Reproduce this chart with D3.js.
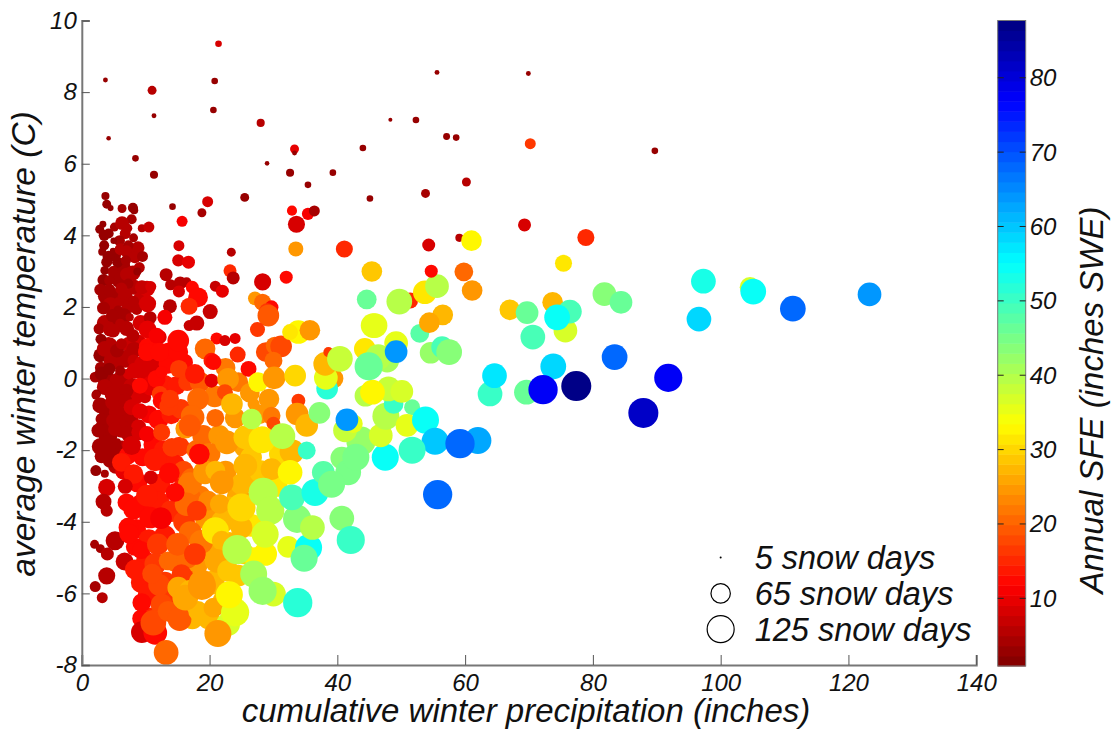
<!DOCTYPE html>
<html>
<head>
<meta charset="utf-8">
<script src="https://cdn.jsdelivr.net/npm/d3@7"></script>
<style>
  body { margin: 0; background: #fff; }
  text { font-family: "Liberation Sans", Arial, sans-serif; font-style: italic; fill: #111; }
</style>
</head>
<body>
<div id="chart"></div>
<script>
// rows are [precip inches, temp C, annual SFE, snow days]
var darkFill = [
  [4.2,4.05,3,33],[6.8,4.05,5,36],[7.8,4.45,4,33],[5.9,3.85,4,36],[7.6,3.55,5,43],[8.8,3.65,5,43],[9,3.1,5,36],[5.2,3.45,3,40],
  [4.2,3.4,3,40],[6.4,3.15,4,50],[5.2,2.95,4,46],[5.9,2.75,4,53],[8,2.95,6,50],[8.2,2.55,5,50],[3.4,2.75,3,40],[3.7,2.3,4,50],
  [5.1,2.3,4,53],[6.8,2.3,5,50],[7.4,2.05,5,53],[9.2,2.2,7,53],[4.5,2.05,5,53],[6.6,1.75,4,50],[5.6,1.55,4,60],[3.6,1.55,5,53],
  [7,1.4,5,50],[9.2,1.55,8,53],[8.9,1,8,53],[7.3,0.95,7,50],[4.2,0.9,5,63],[2.9,0.65,3,46],[4.9,0.5,5,63],[6.8,0.55,6,60],
  [8.2,0.8,6,53],[3.9,-0.05,4,60],[6.5,0,6,68],[7.9,-0.25,7,63],[5.8,-0.5,6,68],[2.9,-0.75,4,53],[8.5,-0.5,8,53],[3.9,-0.85,4,60],
  [5.8,-0.95,5,68],[7.5,-1.2,6,60],[6.2,-1.4,6,60],[4.1,-1.6,4,63],[2.9,-1.9,4,57],[6.3,-1.95,6,53],[4.9,-2,4,63],[3.5,-1.35,4,57],
  [8.9,-1.35,9,50],[5.3,-2.45,5,50],[4.4,-2.3,4,46]
];
var darkCluster = [
  [3.7,5.1,3,26],[3.9,4.87,3,29],[4.5,4.76,3,19],[6.3,4.75,4,29],[8,4.77,3,33],[8.2,4.7,3,26],
  [3.3,4.31,3,22],[2.8,4.17,3,29],[5.1,4.23,4,29],[6.3,4.34,6,46],[7.2,4.2,5,29],[9.4,4.2,5,26],[10.5,4.23,7,36],
  [3.5,4,3,36],[5,3.85,3,21],[8.1,3.93,4,29],[3.5,3.72,3,33],[3.2,3.54,3,26],[4.9,3.56,3,21],[6.1,3.61,5,40],
  [7.3,3.72,4,33],[7,3.55,5,40],[8.3,3.39,5,40],[9.5,3.41,4,36],[3.9,3.25,3,36],[5.6,3.25,3,36],[6.9,3.3,4,33],
  [3.6,3.02,3,29],[4.9,3,4,33],[7,2.91,5,43],[8.7,2.99,3,26],[4.3,2.74,4,33],[7.3,2.65,4,33],[2.9,2.48,4,40],
  [4.3,2.48,4,40],[6.2,2.51,5,40],[10.2,2.51,8,53],[9.4,2.55,7,46],[10.8,2.57,8,36],[5.7,2.13,5,33],[8.1,2.16,5,36],
  [3.4,1.97,4,43],[5.7,1.9,4,33],[8.6,1.93,6,36],[4.8,1.76,4,43],[10.7,1.7,6,43],[7.5,1.71,5,26],[2.7,1.39,4,36],
  [4.4,1.37,5,46],[6,1.53,5,33],[8,1.2,6,43],[3,1.1,3,36],[4.9,1.34,5,46],[3.6,0.83,5,53],[5.5,0.78,4,46],[6.2,0.97,6,36],
  [3,0.3,4,40],[2.1,0.04,4,36],[3.1,0.14,3,46],[4.3,0.27,3,40],[5.5,-0.06,5,50],[8.1,0.5,7,40],[7.3,0.13,8,36],
  [8.3,0.22,8,53],[6,0.22,4,33],[3.6,-0.24,5,53],[2.3,-0.43,3,29],[4.9,-0.43,5,57],[7,-0.34,5,46],[9.9,0.08,8,53],
  [9.9,-0.52,8,40],[2.2,-0.46,4,29],[4.9,-0.66,5,53],[6.8,-0.62,6,46],[3.1,-1.13,4,40],[2.6,-1.45,4,46],[4.9,-1.17,5,46],
  [5.2,-1.41,5,46],[3.9,-1.87,4,68],[5.5,-1.78,4,26],[3.1,-2.17,4,46],[2.2,-2.57,3,36],[7.3,-1.55,6,50],
  [3.6,-2.66,4,26],[3.9,-3.04,8,57],[3.4,-3.44,6,53],[3.9,-3.69,6,40],[5.2,-4.53,6,63],[2,-4.63,4,29],[2.9,-4.75,4,29],
  [4,-4.9,5,43],[6.7,-5.11,7,60],[3.9,-5.51,5,57],[2.1,-5.81,4,36],[3.2,-6.12,5,36]
];
var redFill = [
  [9.6,0.4,8,60],[11,0.3,9,68],[13.5,0.4,13,63],[10.8,-0.2,10,68],[13,-0.15,14,60],[14.8,-0.2,14,63],[16,0.45,13,60],[16.5,-0.1,16,60],
  [10.5,-1,11,60],[12,-1.15,12,68],[14,-1,14,68],[15.5,-0.85,16,68],[9,-1.5,9,53],[11.2,-1.85,12,68],[12.8,-2,14,68],[15.3,-1.9,17,68],
  [9.5,-2.2,12,60],[7.2,-2.15,13,60],[8.7,-2.9,12,68],[12.2,-2.95,14,75],[14.5,-2.4,14,75],[16,-3,14,75],[6.5,-2.6,10,53],[9.4,-3.5,12,75],
  [12,-3.45,14,83],[14,-3.7,15,83],[16,-4,17,83],[8.5,-4.2,12,68],[10.5,-4.5,14,75],[13,-4.4,14,83],[8.3,-4.7,12,60],[10,-5.1,14,68],
  [13,-5.7,16,83],[9.3,-5.7,14,75],[10.5,-6,14,83],[14,-6.1,17,83],[11,-6.7,15,83],[9.3,-6.7,12,60]
];
var redBand = [
  [12.2,1.16,10,46],[10.3,2.09,9,57],[10.3,1.37,10,60],[10.4,0.88,12,63],[12,0.76,12,60],[13.5,0.78,12,53],
  [9.1,-0.2,12,53],[11.7,-0.01,13,60],[12.2,-0.43,16,53],[7.8,-0.8,9,53],[9.1,-0.91,10,53],[7.8,-1.87,9,63],[10.2,-1.55,11,53],
  [6.2,-2.34,14,63],[8.1,-2.67,14,68],[10.8,-2.76,9,46],[12.5,-1.5,16,57],
  [12.5,-0.62,13,60],[13.6,-0.78,17,63],[14.1,-1.92,16,63],[6.8,-3.01,8,50],[7,-3.46,12,60],[8.1,-3.65,13,75],[10.2,-3.27,14,83],
  [7.3,-4.16,12,68],[7.4,-4.33,12,68],[9.3,-4.79,12,60],
  [8.3,-5.33,14,68],[11.9,-4.63,16,83],[11.5,-5.18,16,83],[13.5,-5.09,21,63],[12.1,-5.76,18,83],[11,-5.45,18,68],
  [9.4,-6.26,13,63],[12.5,-6.31,18,83],[9.4,-7.08,9,83],[11.5,-7.1,12,99],[11.2,-6.82,18,115],[13.2,-7.65,20,107]
];
var upperRed = [
  [13.2,2.9,6,43],[13.9,2.62,5,36],[15.4,2.67,5,43],[16.4,2.69,6,33],[17.3,2.55,12,43],[15.2,2.43,9,40],[18.2,2.27,12,68],
  [13.8,2.02,6,46],[16.8,2.02,15,57],[13,1.71,11,50],[20.1,1.87,7,50],[18,1.55,7,50],[16.8,1.48,7,36],[20.9,2.58,7,36],[22,2.44,10,43],
  [15.2,3.71,8,36],[15.1,3.3,8,40],[16.7,3.25,10,43],[23.4,3.53,5,29],[23.2,3.01,15,43],[23.7,2.81,6,43],[11.7,1.2,11,53],
  [21.1,1.12,12,40],[22.4,1.06,8,36],[24,1.12,10,36],[28.3,2.7,8,57],[32,2.83,12,43],[27.1,2.24,24,46],[28.3,2.13,21,57],
  [29.7,1.99,13,46],[29,1.88,16,53],[29.2,1.76,19,83],[27.5,1.37,17,50],[15.7,4.39,11,36],[19.7,4.94,8,36],[18.8,4.63,4,29],[14.2,4.8,3,21]
];
var warmFill = [
  [18.5,-0.1,19,75],[20.8,-0.5,22,83],[22.5,0.3,22,68],[24.5,-0.1,22,68],[26.3,-0.4,25,68],[19,-1.6,21,83],[21.5,-1.6,24,83],[24,-1.1,25,75],
  [25.5,-1.9,26,83],[27.8,-1,24,68],[18,-2,21,75],[20,-2.1,22,83],[22.5,-2.6,25,83],[24.5,-3.3,26,91],[27,-2.9,28,83],[18.5,-3.3,22,83],
  [23,-3.6,27,83],[17,-3.3,20,75],[19.5,-3.9,24,91],[22,-4,27,91],[17,-4.3,21,91],[24,-3.7,28,83],[26.5,-2.2,29,83],[28,-2.6,29,91],
  [30.5,-3,32,83],[31,-2.1,30,83],[18,-5.2,24,83],[20,-4.8,26,91],[23,-4.6,28,91],[24.5,-5.5,29,83],[20.5,-5.7,27,99],[14.5,-5.1,20,75],
  [16.5,-5,21,83],[13.5,-6.5,19,75],[17.3,-6.7,27,83],[19.8,-6.7,27,83],[22.2,-6.2,28,83],[25.5,-4.9,30,75],[26.5,-4.1,31,91],[27,-5,33,75]
];
var warmCluster = [
  [10.2,0.74,12,60],[12.2,0.74,12,63],[15.1,0.74,12,68],[12.5,0.18,13,40],[15.2,0.27,17,60],[17.7,0.13,14,68],
  [19.3,0.83,20,75],[20.3,0.5,14,53],[20.6,0.46,13,53],[20.3,-0.06,10,46],[24.4,0.67,15,53],[22.9,-0.01,25,83],[22.4,-0.38,18,53],
  [23.5,-0.71,27,83],[26.9,-0.71,24,40],[28.8,0.74,18,68],[30.2,0.92,20,60],[31.2,0.9,18,83],[30,0.5,20,60],[26.1,0.27,12,53],
  [13.8,-0.56,17,60],[18.2,-0.57,20,83],[17.5,-1.08,20,83],[16.4,-1.36,21,68],[17.2,-1.04,20,83],[16.2,-1.4,24,68],[16.9,-1.31,19,83],
  [20.9,-1.1,21,60],[15.9,-2.57,18,68],[17.2,-2.81,21,83],[16.9,-2.95,22,99],[19.3,-2.62,25,99],[20.9,-2.57,28,68],
  [22.7,-1.78,24,99],[25.6,-2.43,27,99],[25,-2.95,28,83],[19.8,-3.41,23,68],[21.6,-3.5,26,68],[16.4,-3.51,21,99],[18,-3.69,17,68],
  [15,-4.63,19,91],[18.7,-4.56,22,99],[20.9,-4.25,31,125],[21.9,-4.53,28,68],[25,-4.16,27,83],[17.7,-4.9,17,83],[21.1,-5.09,26,99],
  [22.9,-5.37,29,83],[15.6,-5.46,16,68],[16.2,-5.56,17,60],[15.1,-5.84,26,83],[16.9,-5.93,27,83],[18.8,-5.7,24,117],[15.3,-6.72,19,99],
  [18.2,-6.49,27,68],[20.6,-6.4,26,68],[16.2,-6.12,26,115],[18.8,-5.79,24,134],[21.9,-2.9,25,99],[25.6,-1.64,29,99],[27.6,-0.1,33,68],
  [29.3,-0.57,25,75],[29.7,-1.04,22,60],[30,-1.26,18,46],[30.1,0.02,25,91],[33.9,-0.62,17,46],[33.4,0.08,30,83],[33.7,-0.99,25,91],
  [35.2,-1.31,28,91],[32.9,-2.04,27,107],[29.7,-2.53,28,83],[35.2,-2.01,50,60],[37.2,-0.96,44,83],[28.2,-1.71,31,125],[26.6,-1.13,39,75],
  [31.4,-1.61,40,115],[32.6,-2.62,33,107]
];
var redOnTop = [
  [15.1,1.06,12,83],[11.5,-2.27,14,91],[13.7,-2.64,13,75],[14.6,-3.18,12,63],[10.7,-3.88,12,83],[12.4,-3.9,11,83],[18.4,-2.11,12,75]
];
var greenBlue = [
  [25,-3.6,30,134],[28.4,-3.18,40,143],[29.5,-3.69,39,134],[33.7,-3.92,44,134],[32.9,-3.32,49,115],[36.5,-3.18,53,125],[28.7,-4.9,33,99],
  [28.7,-4.35,37,125],[24.3,-4.78,39,143],[32.3,-4.7,36,83],[35.5,-4.72,55,125],[34.8,-5.02,47,125],[36.1,-4.16,39,107],
  [22.9,-6.86,37,99],[24,-6.53,36,134],[23.1,-6.04,33,125],[21.3,-7.12,25,125],[30,-6.02,37,107],[26.9,-5.46,41,125],[28.3,-5.93,42,134],
  [33.8,-6.26,52,143],[40.7,-3.9,43,107],[42.1,-4.51,51,134],[37.8,-2.62,48,91],[40.7,-2.22,43,91],[41.7,-2.62,45,115],[39.1,-2.95,45,125],
  [43.7,-1.75,42,143],[42.9,-2.2,45,125],[47.5,-2.2,54,125],[46.8,-1.59,37,99],[41.2,-1.45,38,99],[42.5,-1.26,36,63],[41.5,-1.15,64,91],
  [47.6,-1.05,40,125],[51.7,-0.8,46,53],[48.8,-0.71,50,68],[50.9,-1.31,36,91],[44.4,-0.48,40,83],[48,-0.29,38,107],[50.1,-0.36,37,91],
  [45.5,-0.38,33,107],[53.8,-1.16,55,125],[55.3,-1.75,60,125],[62,-1.73,62,125],[59.2,-1.82,68,143],[51.7,-2,50,125],[55.7,-3.24,68,143],
  [39.4,0,25,68],[38.4,-0.28,52,83],[38.2,0.02,36,99],[38.1,0.41,27,99],[38.6,0.74,17,33],[40.4,0.55,38,115],[44.3,0.83,32,83],[49.2,0.99,36,99],
  [47.8,0.5,41,99],[46.4,0.6,40,115],[49.2,0.75,64,91],[44.9,0.34,46,134],[54.6,0.72,42,83],[56.4,0.88,49,83],[57.5,0.74,44,115],
  [33.9,1.3,33,99],[32.6,1.3,32,53],[35.7,1.35,25,75],[45.4,2.99,29,75],[44.6,2.21,47,68],[45.6,1.48,36,107],[45.9,1.48,35,107],
  [51.4,2.18,15,53],[49.7,2.15,40,115],[53.7,2.41,31,99],[55.6,2.58,40,99],[52.9,1.26,48,63],[56.5,1.78,28,75],[54.4,1.56,26,75],
  [54.7,3,13,43],[59.8,2.98,21,63],[61.1,2.46,25,75],[59.1,3.93,6,26],[61,3.85,33,75],[54.3,3.73,8,43],[33.5,3.62,25,50],[41.1,3.62,15,57],
  [33.6,4.31,9,57],[32.9,4.69,13,33],[35.4,4.6,11,40],[36.4,4.68,4,36],[67,1.92,29,75],[69.7,1.84,46,91],[70.6,1.16,49,107],[69.3,4.29,9,43],
  [73.7,2.13,27,75],[75.7,1.34,37,99],[76.4,1.87,49,99],[74.4,1.71,55,115],[75.4,3.22,31,57],[78.9,3.94,15,57],[81.8,2.36,44,99],[84.4,2.13,46,91],
  [63.9,-0.43,51,107],[64.6,0.08,57,107],[69.6,-0.38,46,107],[73.8,0.34,59,115],[72.2,-0.31,77,143],[77.4,-0.21,87,149],[83.4,0.6,68,115],
  [91.8,0.02,77,134],[87.9,-0.96,82,149],[97.3,2.72,53,107],[96.6,1.66,59,107],[104.6,2.55,37,75],[105.1,2.43,55,115],[111.3,1.95,68,115],[123.3,2.35,64,99]
];
var sparseDots = [
  [21.4,9.35,8,21],[3.7,8.34,3,15],[11,8.05,5,29],[20.8,8.31,3,21],[20.6,7.5,3,21],[11.3,7.34,3,15],[28,7.14,5,26],[4.2,6.71,3,14],
  [33.3,6.41,10,29],[33.3,6.3,3,15],[8.4,6.15,3,21],[29,6.01,3,14],[11.3,5.69,3,26],[32.6,5.75,3,26],[39.3,5.75,3,21],[44,6.44,3,21],
  [35.4,5.41,3,21],[45.1,5.03,3,21],[25.5,5.06,3,29],[53.8,5.17,4,29],[60.2,5.49,5,29],[55.6,8.55,3,15],[69.9,8.52,3,15],[52.3,7.22,3,21],
  [48.3,7.23,3,12],[57.1,6.76,3,22],[58.6,6.73,3,21],[70.2,6.56,16,36],[89.7,6.36,3,21]
];
var sfeTicks = [10, 20, 30, 40, 50, 60, 70, 80];
var xTicks = [0, 20, 40, 60, 80, 100, 120, 140];
var yTicks = [-8, -6, -4, -2, 0, 2, 4, 6, 8, 10];
var legendDays = [5, 65, 125];
var legendTemps = [-5, -6, -7];
var legendPrecip = 100;

var width = 1114, height = 730;
var margin = {top: 20.5, right: 138, bottom: 65, left: 81.8};
var plotW = width - margin.left - margin.right,
    plotH = height - margin.top - margin.bottom;

var xScale = d3.scaleLinear().domain([0, 140]).range([0, plotW + 0.2]);
var yScale = d3.scaleLinear().domain([-8, 10]).range([plotH, 0]);
var rScale = d3.scaleLinear().domain([5, 65, 125]).range([1, 9.7, 13.5]);

// MATLAB flipud(jet) with 64 levels
function jet(t) {
  var c = function (v) { return Math.max(0, Math.min(1, v)); };
  return d3.rgb(255 * c(Math.min(4 * t - 1.5, -4 * t + 4.5)),
                255 * c(Math.min(4 * t - 0.5, -4 * t + 3.5)),
                255 * c(Math.min(4 * t + 0.5, -4 * t + 2.5))) + "";
}
var sfeMin = 0.9, sfeMax = 87.7, levels = d3.range(64);
var colorScale = d3.scaleQuantize()
    .domain([sfeMin, sfeMax])
    .range(levels.map(function (i) { return jet(1 - (i + 0.5) / 64); }));

var svg = d3.select("#chart").append("svg")
    .attr("width", width).attr("height", height);
var g = svg.append("g")
    .attr("transform", "translate(" + margin.left + "," + margin.top + ")");

var points = darkFill.concat(darkCluster, redFill, redBand, upperRed, warmFill, warmCluster, redOnTop, greenBlue, sparseDots);
g.append("g").selectAll("circle")
    .data(points).enter().append("circle")
    .attr("cx", function (d) { return xScale(d[0]); })
    .attr("cy", function (d) { return yScale(d[1]); })
    .attr("r", function (d) { return rScale(d[3]); })
    .attr("fill", function (d) { return colorScale(d[2]); });

// Axes, box off, ticks pointing inward
var xAxis = d3.axisBottom(xScale).tickValues(xTicks).tickSize(-10).tickPadding(9).tickFormat(String);
var yAxis = d3.axisLeft(yScale).tickValues(yTicks).tickSize(-8).tickPadding(5).tickFormat(String);
g.append("g").attr("class", "axis").attr("transform", "translate(0," + plotH + ")").call(xAxis);
g.append("g").attr("class", "axis").call(yAxis);
g.selectAll(".axis text").style("font-size", "24px").attr("fill", null);
g.selectAll(".axis .domain").attr("stroke", "#777").attr("stroke-width", 2);
g.selectAll(".axis .tick line").attr("stroke", "#555").attr("stroke-width", 1);

// Legend
var legend = g.append("g").selectAll("g").data(legendDays).enter().append("g")
    .attr("transform", function (d, i) { return "translate(" + xScale(legendPrecip) + "," + yScale(legendTemps[i]) + ")"; });
legend.append("circle")
    .attr("r", function (d) { return rScale(d); })
    .attr("fill", function (d, i) { return i == 0 ? "#000" : "none"; })
    .attr("stroke", "#000").attr("stroke-width", function (d, i) { return i == 0 ? 0 : 1.2; });
legend.append("text")
    .attr("x", 34).attr("dy", "0.35em")
    .style("font-size", "32.5px")
    .text(function (d) { return d + " snow days"; });

// Colorbar
var cbX = 997.7 - margin.left, cbW = 28;
var cbScale = d3.scaleLinear().domain([sfeMin, sfeMax]).range([plotH + 1, 0]);
var cb = g.append("g");
cb.selectAll("rect").data(colorScale.range()).enter().append("rect")
    .attr("x", cbX).attr("width", cbW)
    .attr("y", function (d) { return cbScale(colorScale.invertExtent(d)[1]); })
    .attr("height", function (d) { return cbScale(colorScale.invertExtent(d)[0]) - cbScale(colorScale.invertExtent(d)[1]) + 0.5; })
    .attr("fill", function (d) { return d; });
cb.append("rect").attr("x", cbX).attr("y", 0).attr("width", cbW).attr("height", plotH + 1)
    .attr("fill", "none").attr("stroke", "#777").attr("stroke-width", 1);
var cbTick = cb.selectAll(".cbtick").data(sfeTicks).enter().append("g").attr("class", "cbtick")
    .attr("transform", function (d) { return "translate(" + cbX + "," + cbScale(d) + ")"; });
cbTick.append("line").attr("x1", 0).attr("x2", 6).attr("stroke", "#222");
cbTick.append("line").attr("x1", cbW - 6).attr("x2", cbW).attr("stroke", "#222");
cbTick.append("text").attr("x", cbW + 4).attr("dy", "0.35em").style("font-size", "24px")
    .text(function (d) { return d; });

// Titles
svg.append("text").attr("x", 526).attr("y", 722).style("text-anchor", "middle")
    .style("font-size", "33px").text("cumulative winter precipitation (inches)");
svg.append("text").attr("transform", "translate(35,344) rotate(-90)").style("text-anchor", "middle")
    .style("font-size", "33.5px").text("average winter temperature (C)");
svg.append("text").attr("transform", "translate(1103,400) rotate(-90)").style("text-anchor", "middle")
    .style("font-size", "33px").text("Annual SFE (inches SWE)");
</script>
</body>
</html>
